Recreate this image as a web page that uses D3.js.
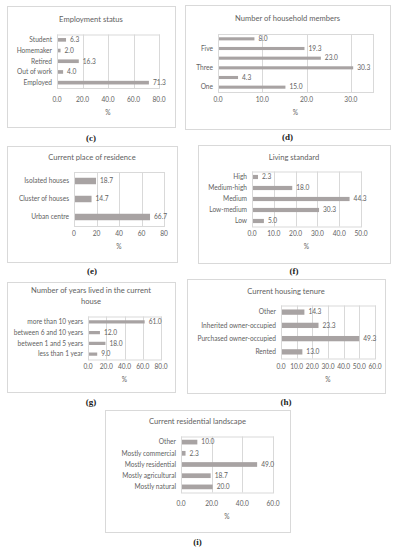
<!DOCTYPE html>
<html>
<head>
<meta charset="utf-8">
<script src="https://cdn.jsdelivr.net/npm/d3@7"></script>
<style>
  body { margin: 0; background: #fff; }
  text { font-family: Lato, "Open Sans", sans-serif; fill: #626262; }
</style>
</head>
<body>
<div class="canvas"></div>
<script>
// data, top to bottom as in the picture
const employmentCats = ["Student", "Homemaker", "Retired", "Out of work", "Employed"];
const employmentVals = [6.3, 2.0, 16.3, 4.0, 71.3];

const householdCats = ["Six", "Five", "Four", "Three", "Two", "One"];
const householdVals = [8.0, 19.3, 23.0, 30.3, 4.3, 15.0];

const residenceCats = ["Isolated houses", "Cluster of houses", "Urban centre"];
const residenceVals = [18.7, 14.7, 66.7];

const livingCats = ["High", "Medium-high", "Medium", "Low-medium", "Low"];
const livingVals = [2.3, 18.0, 44.3, 30.3, 5.0];

const yearsCats = ["more than 10 years", "between 6 and 10 years", "between 1 and 5 years", "less than 1 year"];
const yearsVals = [61.0, 12.0, 18.0, 9.0];

const tenureCats = ["Other", "Inherited owner-occupied", "Purchased owner-occupied", "Rented"];
const tenureVals = [14.3, 23.3, 49.3, 13.0];

const landscapeCats = ["Other", "Mostly commercial", "Mostly residential", "Mostly agricultural", "Mostly natural"];
const landscapeVals = [10.0, 2.3, 49.0, 18.7, 20.0];

const svg = d3.select(".canvas")
  .append("svg")
  .attr("width", 397)
  .attr("height", 550);

const barColor = "#a8a3a3";
const lineColor = "#d9d9d9";

// one panel = outer box + title + bar plot + caption
const drawPanel = (p) => {
  const g = svg.append("g");

  g.append("rect")
    .attr("x", p.box[0] + 0.5)
    .attr("y", p.box[1] + 0.5)
    .attr("width", p.box[2] - p.box[0])
    .attr("height", p.box[3] - p.box[1])
    .attr("fill", "none")
    .attr("stroke", lineColor);

  const cx = (p.box[0] + p.box[2]) / 2;
  p.title.forEach((t, i) => {
    g.append("text")
      .attr("x", cx)
      .attr("y", p.titleY + i * 11)
      .attr("dy", "0.35em")
      .attr("text-anchor", "middle")
      .style("font-size", "7.6px")
      .text(t);
  });

  const x = d3.scaleLinear().domain([0, p.max]).range([p.plot[0], p.plot[2]]);
  const y = d3.scaleBand()
    .domain(p.cats)
    .range([p.plot[1], p.plot[3]])
    .paddingInner(p.pad)
    .paddingOuter(p.pad / 2);

  // gridlines
  g.selectAll(".grid")
    .data(p.ticks)
    .enter()
    .append("line")
    .attr("x1", (d) => Math.round(x(d)) + 0.5)
    .attr("x2", (d) => Math.round(x(d)) + 0.5)
    .attr("y1", p.plot[1])
    .attr("y2", p.plot[3])
    .attr("stroke", lineColor);

  g.append("rect")
    .attr("x", Math.round(p.plot[0]) + 0.5)
    .attr("y", p.plot[1] + 0.5)
    .attr("width", Math.round(p.plot[2]) - Math.round(p.plot[0]))
    .attr("height", p.plot[3] - p.plot[1])
    .attr("fill", "none")
    .attr("stroke", lineColor);

  // tick labels
  g.selectAll(".tick")
    .data(p.ticks)
    .enter()
    .append("text")
    .attr("x", (d) => x(d))
    .attr("y", p.tickY)
    .attr("dy", "0.35em")
    .attr("text-anchor", "middle")
    .style("font-size", "6.6px")
    .text(p.fmt);

  g.append("text")
    .attr("x", (p.plot[0] + p.plot[2]) / 2)
    .attr("y", p.tickY + 12.5)
    .attr("dy", "0.35em")
    .attr("text-anchor", "middle")
    .style("font-size", "6.6px")
    .text("%");

  // bars
  g.selectAll(".bar")
    .data(p.vals)
    .enter()
    .append("rect")
    .attr("x", x(0) + 1)
    .attr("y", (d, i) => y(p.cats[i]))
    .attr("width", (d) => x(d) - x(0))
    .attr("height", y.bandwidth())
    .attr("fill", barColor);

  // value labels
  g.selectAll(".val")
    .data(p.vals)
    .enter()
    .append("text")
    .attr("x", (d) => x(d) + 5)
    .attr("y", (d, i) => y(p.cats[i]) + y.bandwidth() / 2)
    .attr("dy", "0.35em")
    .style("font-size", "6.6px")
    .text((d) => d.toFixed(1));

  // category labels (d only shows every other one)
  g.selectAll(".cat")
    .data(p.cats.filter((c, i) => (p.cats.length - 1 - i) % p.every === 0))
    .enter()
    .append("text")
    .attr("x", p.plot[0] - 5)
    .attr("y", (d) => y(d) + y.bandwidth() / 2)
    .attr("dy", "0.35em")
    .attr("text-anchor", "end")
    .style("font-size", "6.6px")
    .text((d) => d);

  g.append("text")
    .attr("x", cx)
    .attr("y", p.capY)
    .attr("dy", "0.35em")
    .attr("text-anchor", "middle")
    .style("font-family", "'Liberation Serif', serif")
    .style("font-weight", "bold")
    .style("font-size", "9px")
    .style("fill", "#222")
    .text(p.caption);
};

const f1 = (d) => d.toFixed(1);
const f0 = (d) => d.toFixed(0);

drawPanel({
  box: [7, 6, 175, 127], title: ["Employment status"], titleY: 19,
  plot: [57, 34.5, 159, 88], max: 80, ticks: [0, 20, 40, 60, 80], fmt: f1,
  tickY: 100, cats: employmentCats, vals: employmentVals, pad: 0.66, every: 1,
  caption: "(c)", capY: 138,
});

drawPanel({
  box: [185, 5, 390, 129], title: ["Number of household members"], titleY: 18,
  plot: [218, 34, 373, 92], max: 35, ticks: [0, 10, 20, 30], fmt: f1,
  tickY: 100, cats: householdCats, vals: householdVals, pad: 0.68, every: 2,
  caption: "(d)", capY: 137,
});

drawPanel({
  box: [7, 146, 177, 262], title: ["Current  place of residence"], titleY: 157,
  plot: [74, 172, 164, 226], max: 80, ticks: [0, 20, 40, 60, 80], fmt: f0,
  tickY: 234, cats: residenceCats, vals: residenceVals, pad: 0.64, every: 1,
  caption: "(e)", capY: 271,
});

drawPanel({
  box: [198, 145, 390, 263], title: ["Living standard"], titleY: 157,
  plot: [252, 171.5, 361, 226.5], max: 50, ticks: [0, 10, 20, 30, 40, 50], fmt: f1,
  tickY: 234, cats: livingCats, vals: livingVals, pad: 0.62, every: 1,
  caption: "(f)", capY: 271,
});

drawPanel({
  box: [7, 282, 175, 392], title: ["Number of years lived in the current", "house"], titleY: 290,
  plot: [88, 316.5, 161, 359.5], max: 80, ticks: [0, 20, 40, 60, 80], fmt: f1,
  tickY: 367, cats: yearsCats, vals: yearsVals, pad: 0.7, every: 1,
  caption: "(g)", capY: 402,
});

drawPanel({
  box: [187, 279, 385, 393], title: ["Current  housing tenure"], titleY: 291,
  plot: [281, 305.5, 375, 358.5], max: 60, ticks: [0, 10, 20, 30, 40, 50, 60], fmt: f1,
  tickY: 367, cats: tenureCats, vals: tenureVals, pad: 0.6, every: 1,
  caption: "(h)", capY: 402,
});

drawPanel({
  box: [105, 410, 290, 532], title: ["Current residential landscape"], titleY: 421,
  plot: [181, 436.5, 273, 492.5], max: 60, ticks: [0, 20, 40, 60], fmt: f1,
  tickY: 504, cats: landscapeCats, vals: landscapeVals, pad: 0.58, every: 1,
  caption: "(i)", capY: 542,
});
</script>
</body>
</html>
